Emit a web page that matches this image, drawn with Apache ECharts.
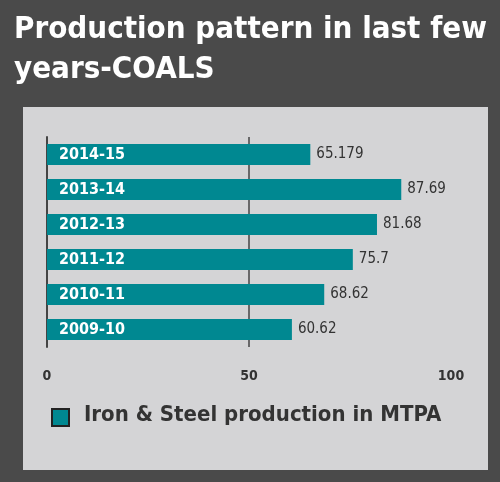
<!DOCTYPE html>
<html><head><meta charset="utf-8">
<script src="https://cdn.jsdelivr.net/npm/echarts@6/dist/echarts.min.js"></script>
<style>html,body{margin:0;padding:0;background:#4a4a4a}#c{width:500px;height:482px}</style>
</head><body><div id="c"></div>
<script>
const categories = ['2009-10','2010-11','2011-12','2012-13','2013-14','2014-15'];
const values = [60.62, 68.62, 75.7, 81.68, 87.69, 65.179];
const valueLabels = ['60.62','68.62','75.7','81.68','87.69','65.179'];
const seriesName = 'Iron & Steel production in MTPA';
const F = 'DejaVu Sans Condensed';
const chart = echarts.init(document.getElementById('c'));
chart.setOption({
  backgroundColor: '#4a4a4a',
  animation: false,
  graphic: [
    {type:'rect', shape:{x:23,y:107,width:465,height:363}, style:{fill:'#d4d4d6'}, z:-10},
    {type:'text', left:14, top:10, style:{text:'Production pattern in last few\nyears-COALS', fill:'#fff', font:'bold 31px "DejaVu Sans Condensed"', lineHeight:40}},
    {type:'rect', shape:{x:52,y:409,width:17,height:17}, style:{fill:'#008891', stroke:'#222', lineWidth:2}},
    {type:'text', left:84, top:404, style:{text:seriesName, fill:'#333', font:'bold 22px "DejaVu Sans Condensed"'}}
  ],
  grid: {left:47, right:49, top:137, height:210},
  xAxis: {type:'value', min:0, max:100, interval:50,
    axisLine:{show:false}, axisTick:{show:false},
    splitLine:{showMinLine:false, showMaxLine:false, lineStyle:{color:'#444', width:1.5}},
    axisLabel:{color:'#333', fontFamily:F, fontWeight:'bold', fontSize:14, margin:22}},
  yAxis: {type:'category', data:categories,
    axisLine:{lineStyle:{color:'#444', width:2}}, axisTick:{show:false}, axisLabel:{show:false}},
  series: [{type:'bar', name:seriesName, data:values, barWidth:21, itemStyle:{color:'#008891'}, z:3,
    label:{show:true, position:'right', distance:6, color:'#333', fontFamily:F, fontSize:15,
      formatter:p=>valueLabels[p.dataIndex]}},
    {type:'bar', data:values, barWidth:21, barGap:'-100%', itemStyle:{color:'transparent'}, z:4,
     label:{show:true, position:'insideLeft', distance:12, color:'#fff', fontFamily:F, fontWeight:'bold', fontSize:16,
      formatter:p=>categories[p.dataIndex]}}]
});
</script></body></html>
